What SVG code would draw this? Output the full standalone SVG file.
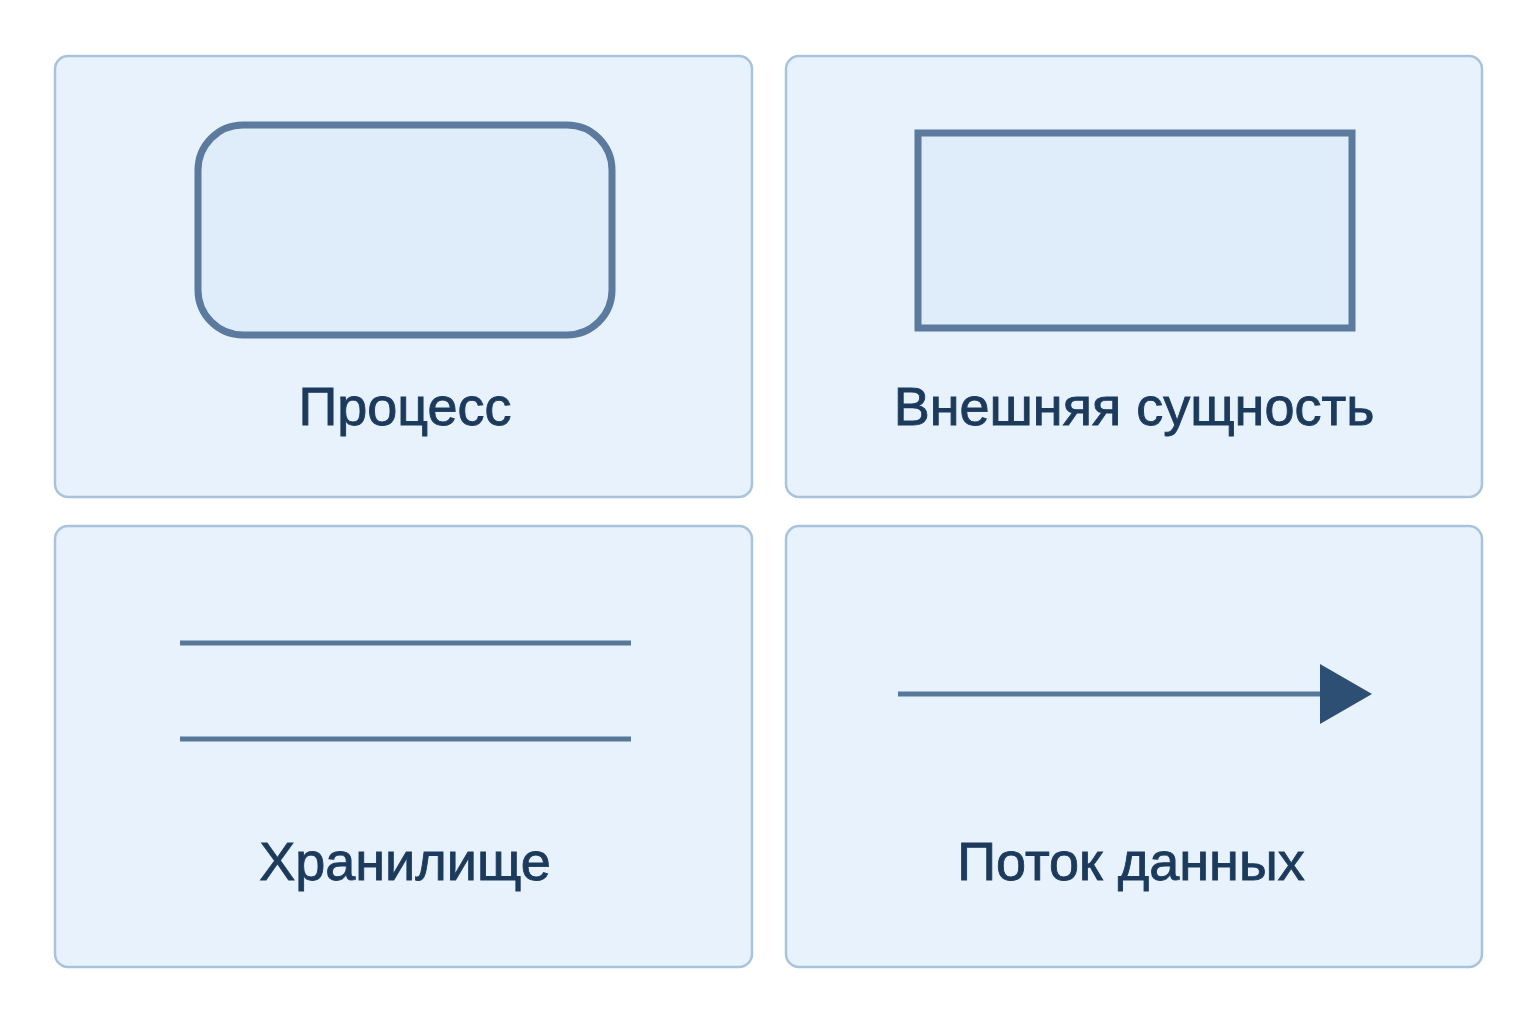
<svg xmlns="http://www.w3.org/2000/svg" width="1536" height="1024" viewBox="0 0 1536 1024">
<style>
.panel{fill:#e7f2fc;stroke:#a9c3dd;stroke-width:2.5}
.shape{fill:#dfecfa;stroke:#5b7a9d;stroke-width:7}
.line{stroke:#587899;stroke-width:5;fill:none}
.label{font-family:"Liberation Sans",Arial,sans-serif;font-size:54px;fill:#1c3a5c;stroke:#1c3a5c;stroke-width:0.9;text-anchor:middle}
</style>
<rect width="1536" height="1024" fill="#ffffff"/>
<g id="process">
<rect class="panel" x="55" y="56" width="697" height="441" rx="13"/>
<rect class="shape" x="198" y="125" width="414" height="210" rx="45"/>
<text class="label" x="405" y="425">Процесс</text>
</g>
<g id="external-entity">
<rect class="panel" x="786" y="56" width="696" height="441" rx="13"/>
<rect class="shape" x="918" y="133" width="434" height="195"/>
<text class="label" x="1134" y="425">Внешняя сущность</text>
</g>
<g id="data-store">
<rect class="panel" x="55" y="526" width="697" height="441" rx="13"/>
<line class="line" x1="180" y1="643" x2="631" y2="643"/>
<line class="line" x1="180" y1="739" x2="631" y2="739"/>
<text class="label" x="405" y="880">Хранилище</text>
</g>
<g id="data-flow">
<rect class="panel" x="786" y="526" width="696" height="441" rx="13"/>
<text class="label" x="1131" y="880">Поток данных</text>
</g>
<g id="connectors">
<line class="line" x1="898" y1="694" x2="1322" y2="694"/>
<polygon points="1320,664 1372,694 1320,724" fill="#2c4f73"/>
</g>
</svg>
